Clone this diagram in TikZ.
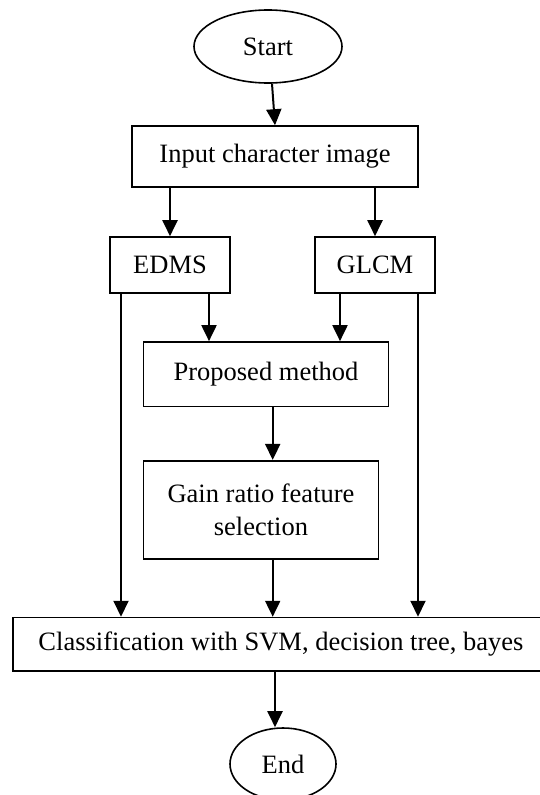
\documentclass[tikz,border=0pt]{standalone}
\usepackage{fontspec}
\setmainfont{Liberation Serif}
\usetikzlibrary{shapes.geometric,arrows.meta}
\begin{document}
\begin{tikzpicture}[x=1pt,y=-1pt,
  every node/.style={font=\fontsize{26.5}{33}\selectfont, inner sep=0pt, align=center},
  stepbox/.style={draw, line width=1.6pt, rectangle},
  termbox/.style={draw, line width=1.6pt, ellipse},
  arr/.style={line width=2pt, -{Triangle[width=15pt,length=16pt]}}]
\useasboundingbox (0,0) rectangle (539,795);
\node[termbox, minimum width=148pt, minimum height=73pt] (start) at (268,46.5) {Start};
\node[stepbox, minimum width=286pt, minimum height=61pt] (input) at (275,156.5) {Input character image};
\node[stepbox, minimum width=120pt, minimum height=56pt] (edms) at (170,265) {EDMS};
\node[stepbox, minimum width=120pt, minimum height=56pt] (glcm) at (375,265) {GLCM};
\node[stepbox, minimum width=245pt, minimum height=64.7pt] (prop) at (266,374.3) {Proposed method};
\node[stepbox, minimum width=235pt, minimum height=98pt] (gain) at (261,509.7) {Gain ratio feature\\selection};
\node[stepbox, minimum width=536pt, minimum height=53.5pt] (cls) at (281,644.3) {Classification with SVM, decision tree, bayes};
\node[termbox, minimum width=106pt, minimum height=72pt] (end) at (283,764) {End};
\coordinate (xa) at (121,0);
\coordinate (xb) at (209,0);
\coordinate (xc) at (340,0);
\coordinate (xd) at (418,0);
\coordinate (xe) at (272.7,0);
\coordinate (xf) at (275,0);
\draw[arr] ([xshift=4pt]start.south) -- (input.north);
\draw[arr] (input.south -| edms.north) -- (edms.north);
\draw[arr] (input.south -| glcm.north) -- (glcm.north);
\draw[arr] (edms.south -| xa) -- (cls.north -| xa);
\draw[arr] (edms.south -| xb) -- (prop.north -| xb);
\draw[arr] (glcm.south -| xc) -- (prop.north -| xc);
\draw[arr] (glcm.south -| xd) -- (cls.north -| xd);
\draw[arr] (prop.south -| xe) -- (gain.north -| xe);
\draw[arr] (gain.south -| xe) -- (cls.north -| xe);
\draw[arr] (cls.south -| xf) -- (end.north -| xf);
\end{tikzpicture}
\end{document}
